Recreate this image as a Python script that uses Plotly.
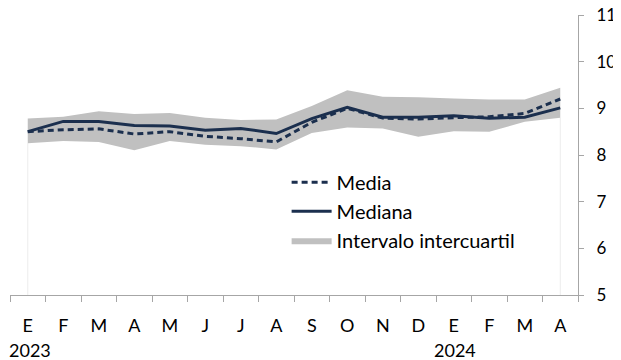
import plotly.graph_objects as go

months = ["E", "F", "M", "A", "M", "J", "J", "A", "S", "O", "N", "D", "E", "F", "M", "A"]
years = ["2023"] * 12 + ["2024"] * 4
media = [8.50, 8.54, 8.56, 8.45, 8.50, 8.40, 8.35, 8.28, 8.70, 9.00, 8.79, 8.77, 8.80, 8.82, 8.89, 9.20]
mediana = [8.50, 8.72, 8.72, 8.63, 8.62, 8.53, 8.57, 8.46, 8.78, 9.02, 8.81, 8.81, 8.84, 8.79, 8.81, 9.01]
q3 = [8.78, 8.82, 8.94, 8.88, 8.90, 8.80, 8.75, 8.76, 9.05, 9.39, 9.25, 9.24, 9.21, 9.19, 9.19, 9.44]
q1 = [8.25, 8.30, 8.28, 8.10, 8.30, 8.22, 8.19, 8.12, 8.47, 8.59, 8.57, 8.39, 8.51, 8.50, 8.71, 8.80]

keys = [f"{y}-{i:02d}-{m}" for i, (y, m) in enumerate(zip(years, months))]

navy = "#1b2f4e"
band = "#c0c0c0"
axis_col = "#a6a6a6"
font = "Lato"

fig = go.Figure()
# faint drop lines at first and last category
fig.add_trace(go.Scatter(x=[keys[0], keys[0], None, keys[-1], keys[-1]],
                         y=[q1[0], 5, None, q1[-1], 5], mode="lines",
                         line=dict(color="#ececec", width=1), showlegend=False, hoverinfo="skip"))
fig.add_trace(go.Scatter(x=keys, y=q1, mode="lines", line=dict(width=0, color=band),
                         showlegend=False, hoverinfo="skip"))
fig.add_trace(go.Scatter(x=keys, y=q3, mode="lines", line=dict(width=0, color=band),
                         fill="tonexty", fillcolor=band, name="Intervalo intercuartil", legendrank=3))
fig.add_trace(go.Scatter(x=keys, y=mediana, mode="lines", line=dict(color=navy, width=3),
                         name="Mediana", legendrank=2))
fig.add_trace(go.Scatter(x=keys, y=media, mode="lines", line=dict(color=navy, width=3, dash="6px,4px"),
                         name="Media", legendrank=1))

for idx in (0, 12):
    fig.add_annotation(x=keys[idx], y=0, xref="x", yref="paper", text=years[idx],
                       showarrow=False, yanchor="top", yshift=-42, xshift=2 if idx == 0 else 1,
                       font=dict(family=font, size=18, color="#000"))

# page body has an 8px margin: figure is 613x352 and offset accordingly
fig.update_layout(
    width=613, height=352,
    margin=dict(l=2, r=43, t=7, b=65),
    paper_bgcolor="white", plot_bgcolor="white",
    font=dict(family=font, size=18, color="#000"),
    showlegend=True,
    legend=dict(x=0.487, y=0.472, xanchor="left", yanchor="top", bgcolor="rgba(0,0,0,0)",
                font=dict(family=font, size=20), tracegroupgap=0, traceorder="normal",
                itemwidth=40),
    xaxis=dict(type="category", categoryorder="array", categoryarray=keys,
               tickvals=keys, ticktext=months, tickson="boundaries",
               showline=True, linecolor=axis_col, linewidth=1,
               ticks="outside", ticklen=6, tickcolor=axis_col,
               showgrid=False, zeroline=False, ticklabelstandoff=14,
               range=[-0.5, 15.5], automargin=False),
    yaxis=dict(side="right", range=[5, 11], dtick=1, tick0=5,
               showline=True, linecolor=axis_col, linewidth=1,
               ticks="outside", ticklen=5, tickcolor=axis_col,
               showgrid=False, zeroline=False, ticklabelstandoff=9,
               ticklabeloverflow="allow", automargin=False,
               tickfont=dict(family=font, size=17)),
)

fig.write_html("out.html")
